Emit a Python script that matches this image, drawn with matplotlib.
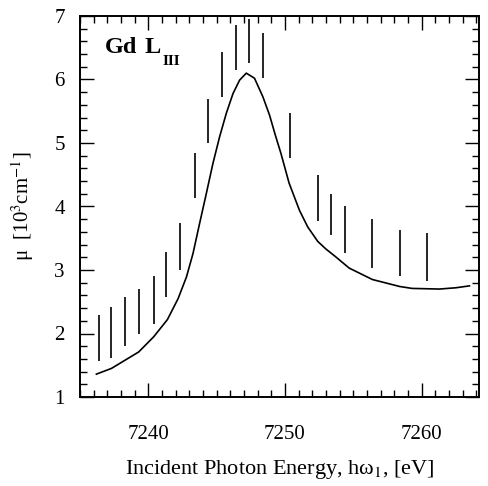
import matplotlib
matplotlib.use("Agg")
import matplotlib.pyplot as plt
from matplotlib.ticker import MultipleLocator

plt.rcParams['font.family'] = ['Liberation Serif', 'DejaVu Serif']
plt.rcParams['mathtext.fontset'] = 'stix'

# measured absorption, drawn as vertical bars (lower / upper limits)
barE = [7236.4, 7237.3, 7238.3, 7239.3, 7240.4, 7241.3, 7242.3, 7243.4, 7244.4, 7245.4,
        7246.4, 7247.4, 7248.4, 7250.4, 7252.4, 7253.4, 7254.4, 7256.4, 7258.4, 7260.4]
barLo = [1.56, 1.62, 1.80, 2.00, 2.15, 2.57, 3.00, 4.13, 5.00, 5.73,
         6.15, 6.26, 6.02, 4.77, 3.77, 3.55, 3.26, 3.03, 2.91, 2.83]
barHi = [2.29, 2.42, 2.57, 2.70, 2.90, 3.28, 3.74, 4.84, 5.70, 6.44,
         6.86, 6.95, 6.73, 5.47, 4.50, 4.20, 4.01, 3.81, 3.63, 3.59]

# calculated curve
curveE = [7236.2, 7237.3, 7238.3, 7239.3, 7240.4, 7241.4, 7242.18, 7242.79, 7243.27, 7243.76,
          7244.25, 7244.73, 7245.22, 7245.71, 7246.2, 7246.68, 7247.17, 7247.77, 7248.38, 7248.87,
          7249.3, 7249.7, 7250.3, 7251.06, 7251.66, 7252.4, 7253.0, 7253.7, 7254.7, 7256.4,
          7258.4, 7259.3, 7261.3, 7262.5, 7263.5]
curveMu = [1.36, 1.45, 1.58, 1.71, 1.95, 2.22, 2.55, 2.89, 3.26, 3.74,
           4.21, 4.68, 5.10, 5.47, 5.78, 5.99, 6.10, 6.02, 5.73, 5.44,
           5.12, 4.84, 4.37, 3.94, 3.68, 3.45, 3.33, 3.21, 3.03, 2.85,
           2.74, 2.71, 2.70, 2.72, 2.75]

W, H = 489, 486
fig = plt.figure(figsize=(W/100, H/100), dpi=100)
ax = fig.add_axes([80/W, 1-397/H, 399/W, 381/H])

ax.vlines(barE, barLo, barHi, colors='k', lw=1.2)
ax.plot(curveE, curveMu, 'k-', lw=1.2)

ax.set_xlim(7235.0, 7264.2)
ax.set_ylim(1, 7)
ax.xaxis.set_major_locator(MultipleLocator(10))
ax.xaxis.set_minor_locator(MultipleLocator(1))
ax.yaxis.set_major_locator(MultipleLocator(1))
ax.yaxis.set_minor_locator(MultipleLocator(0.2))
ax.tick_params(which='both', direction='in', top=True, right=True, width=1.0)
ax.tick_params(which='major', length=10, labelsize=15)
ax.tick_params(axis='x', which='major', pad=20)
ax.tick_params(axis='y', which='major', pad=11)
ax.tick_params(which='minor', length=5)
for s in ax.spines.values():
    s.set_linewidth(1.4)

ax.set_xlabel("Incident Photon Energy, h\u03c9$_1$, [eV]", fontsize=16, labelpad=10)
ax.set_ylabel("\u03bc  [10$^3$cm$^{-1}$]", fontsize=15, labelpad=13)

# label in the upper-left corner
fig.text(105/W, 1-53/H, "Gd", fontsize=17.5, fontweight='bold', va='baseline')
fig.text(145/W, 1-53/H, "L", fontsize=17.5, fontweight='bold', va='baseline')
fig.text(163/W, 1-65/H, "III", fontsize=11, fontweight='bold', va='baseline')

fig.savefig("out.png", dpi=100)
